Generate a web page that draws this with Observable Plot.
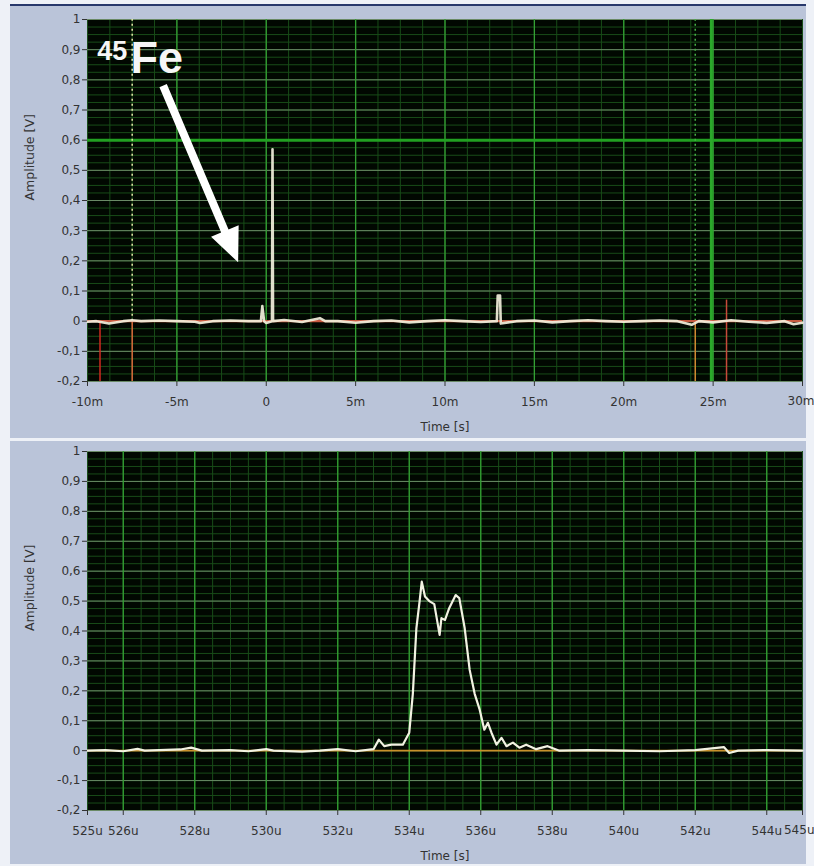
<!DOCTYPE html>
<html><head><meta charset="utf-8">
<script src="https://cdn.jsdelivr.net/npm/d3@7"></script>
<script src="https://cdn.jsdelivr.net/npm/@observablehq/plot@0.6"></script>
<style>
body{margin:0;background:#eef1f7;width:814px;height:866px;position:relative;overflow:hidden}
.panel{position:absolute;left:10px;width:796px;background:#bac4d9}
#top{top:4px;height:432px;border-top:2px solid #27386b}
#bot{top:441px;height:423px}
</style></head><body>
<div id="top" class="panel"></div><div id="bot" class="panel"></div>
<script>
// ---- tick labels ----
const yTicks = [-0.2,-0.1,0,0.1,0.2,0.3,0.4,0.5,0.6,0.7,0.8,0.9,1];
const topXTicks = [-10,-5,0,5,10,15,20,25,30];          // ms
const botXTicks = [525,526,528,530,532,534,536,538,540,542,544,545]; // us
const topMajorX = [-5,0,5,10,15,20,25];
const botMajorX = [526,528,530,532,534,536,538,540,542,544];

// ---- top trace (time in ms, amplitude in V) ----
const topT = [-10,-9.5,-8.8,-8,-7.5,-7,-6,-5,-4,-3.7,-3,-2,-1,-0.3,-0.22,-0.12,0,0.32,0.35,0.38,1,2,3,3.3,4,5,6,7,8,9,10,11,12,12.9,12.95,13.08,13.12,14,15,16,17,18,19,20,21,22,23,23.8,24.2,25,26,27,28,29,29.5,30];
const topV = [-0.002,0,-0.008,0,0.003,0,0.002,0,-0.002,-0.006,0,0.002,0,0,0.05,0,-0.006,0,0.57,0,0.004,-0.003,0.01,0,0,-0.005,0,0.002,-0.004,0,0.003,0,-0.003,0,0.085,0.085,-0.008,0,0.002,-0.004,0,0.003,0,-0.002,0,0.002,0,-0.012,0,-0.004,0.003,-0.002,-0.006,0,-0.01,-0.005];

// cursors / markers in top panel (ms)
const hCursorY = [0.6];
const vCursorX = [24.9];
const dottedX = [-7.5, 24.0];
const redMarkX = [-9.3, -7.5, 24.0, 25.75];
const redMarkTop = [0, 0, 0, 0.07];
const redMarkColor = ["#d02a20", "#d86a3a", "#d08a30", "#c84a3a"];

// ---- bottom trace (time in us, amplitude in V) ----
const botT = [525,525.5,526,526.4,526.6,527,527.6,527.9,528.2,529,529.5,530,530.2,531,531.5,532,532.5,533,533.15,533.3,533.5,533.82,534.0,534.1,534.2,534.29,534.35,534.44,534.56,534.7,534.85,534.9,535.0,535.12,535.3,535.4,535.55,535.69,535.83,535.97,536.1,536.2,536.3,536.44,536.58,536.72,536.9,537.08,537.27,537.55,537.87,538.2,539,540,541,542,542.8,542.95,543.2,544,545];
const botV = [0,0.002,-0.002,0.006,0,0.002,0.004,0.01,0,0.002,-0.002,0.005,0,-0.003,0,0.005,-0.002,0.005,0.037,0.015,0.02,0.02,0.06,0.19,0.41,0.5,0.565,0.515,0.5,0.49,0.387,0.443,0.437,0.477,0.52,0.51,0.41,0.27,0.19,0.137,0.07,0.093,0.06,0.02,0.043,0.015,0.027,0.01,0.02,0.005,0.015,0,0.002,0,-0.002,0.002,0.012,-0.008,0,0.002,0];

// ---- annotation ----
const labelSup = "45", labelMain = "Fe";
const arrowStart = {x: -5.77, y: 0.781};

const fmtY = d => d === 0 ? "0" : d === 1 ? "1" : d.toFixed(1).replace(".", ",");
const font = {fontFamily: "DejaVu Sans", fontSize: "12px", color: "#333", background: "transparent", overflow: "visible"};
const minorC = "#184c18", majorVC = "#34a034", majorHC = "#6a8a66";

const topData = topT.map((t, i) => ({t, v: topV[i]}));
const botData = botT.map((t, i) => ({t, v: botV[i]}));
const marks = redMarkX.map((x, i) => ({x, top: redMarkTop[i], c: redMarkColor[i]}));

const arrowShape = {draw(ctx, l) {
  const hw = 4, hl = 34, hwid = 15;
  ctx.moveTo(-hw, 0); ctx.lineTo(hw, 0); ctx.lineTo(hw, -l + hl); ctx.lineTo(hwid, -l + hl);
  ctx.lineTo(0, -l); ctx.lineTo(-hwid, -l + hl); ctx.lineTo(-hw, -l + hl); ctx.closePath();
}};

function gridMarks(xMin, xMax, xStep, majorX) {
  return [
    Plot.frame({fill: "#010801"}),
    Plot.ruleX(d3.range(xMin, xMax + 1e-9, xStep), {stroke: minorC, strokeWidth: 1}),
    Plot.ruleY(d3.range(-0.2, 1.0001, 0.025), {stroke: minorC, strokeWidth: 1}),
    Plot.ruleY(yTicks, {stroke: majorHC, strokeWidth: 1}),
    Plot.ruleX(majorX, {stroke: majorVC, strokeWidth: 1.3})
  ];
}
function axes(xTicks, fmtX) {
  const last = xTicks[xTicks.length - 1];
  return [
    Plot.axisY(yTicks, {tickFormat: fmtY, tickSize: 5, tickPadding: 2, label: null}),
    Plot.axisX(xTicks, {tickFormat: d => d === last ? "" : fmtX(d), tickSize: 5, tickPadding: 11, label: null}),
    Plot.text([last], {x: d => d, frameAnchor: "bottom", dy: 23, textAnchor: "end", dx: 12, text: fmtX}),
    Plot.text(["Amplitude [V]"], {frameAnchor: "left", rotate: -90, dx: -58, fontSize: 12.5}),
    Plot.text(["Time [s]"], {frameAnchor: "bottom", dy: 49, fontSize: 12})
  ];
}

const topPlot = Plot.plot({
  width: 796, height: 432, marginTop: 13, marginBottom: 57, marginLeft: 77, marginRight: 4,
  style: font,
  x: {domain: [-10, 30], axis: null},
  y: {domain: [-0.2, 1], axis: null},
  marks: [
    ...gridMarks(-10, 30, 1.25, topMajorX),
    Plot.ruleY(hCursorY, {stroke: "#22a022", strokeWidth: 3}),
    Plot.ruleX(vCursorX, {stroke: "#2aa82a", strokeWidth: 3}),
    Plot.ruleX(dottedX, {y1: 0, y2: 1, stroke: (d, i) => i === 0 ? "#e6e6a8" : "#46b046", strokeWidth: 1.5, strokeDasharray: "2,3"}),
    Plot.ruleX(marks, {x: "x", y1: -0.2, y2: "top", stroke: "c", strokeWidth: 1.5}),
    Plot.ruleY([0], {stroke: "#c65a40", strokeWidth: 2.2}),
    Plot.line(topData, {x: "t", y: "v", stroke: "#f2f0dc", strokeWidth: 2.6, strokeOpacity: 0.92}),
    Plot.vector([arrowStart], {x: "x", y: "y", length: 192, rotate: 157, anchor: "start", shape: arrowShape, fill: "white", stroke: "none"}),
    Plot.text([{x: -9.45, y: 0.867}], {x: "x", y: "y", text: () => labelSup, textAnchor: "start", lineAnchor: "bottom", fontSize: 27, fontWeight: "bold", fontFamily: "Liberation Sans", fill: "#f6f6f6"}),
    Plot.text([{x: -7.6, y: 0.824}], {x: "x", y: "y", text: () => labelMain, textAnchor: "start", lineAnchor: "bottom", fontSize: 45, fontWeight: "bold", fontFamily: "Liberation Sans", fill: "#f6f6f6"}),
    ...axes(topXTicks, d => d === 0 ? "0" : d + "m")
  ]
});
document.getElementById("top").append(topPlot);

const botPlot = Plot.plot({
  width: 796, height: 423, marginTop: 10, marginBottom: 54, marginLeft: 77, marginRight: 4,
  style: font,
  x: {domain: [525, 545], axis: null},
  y: {domain: [-0.2, 1], axis: null},
  marks: [
    ...gridMarks(525, 545, 0.5, botMajorX),
    Plot.ruleY([0], {stroke: "#c8902a", strokeWidth: 1.6}),
    Plot.line(botData, {x: "t", y: "v", stroke: "#f2f2e2", strokeWidth: 2.2}),
    ...axes(botXTicks, d => d + "u")
  ]
});
document.getElementById("bot").append(botPlot);
</script>
</body></html>
